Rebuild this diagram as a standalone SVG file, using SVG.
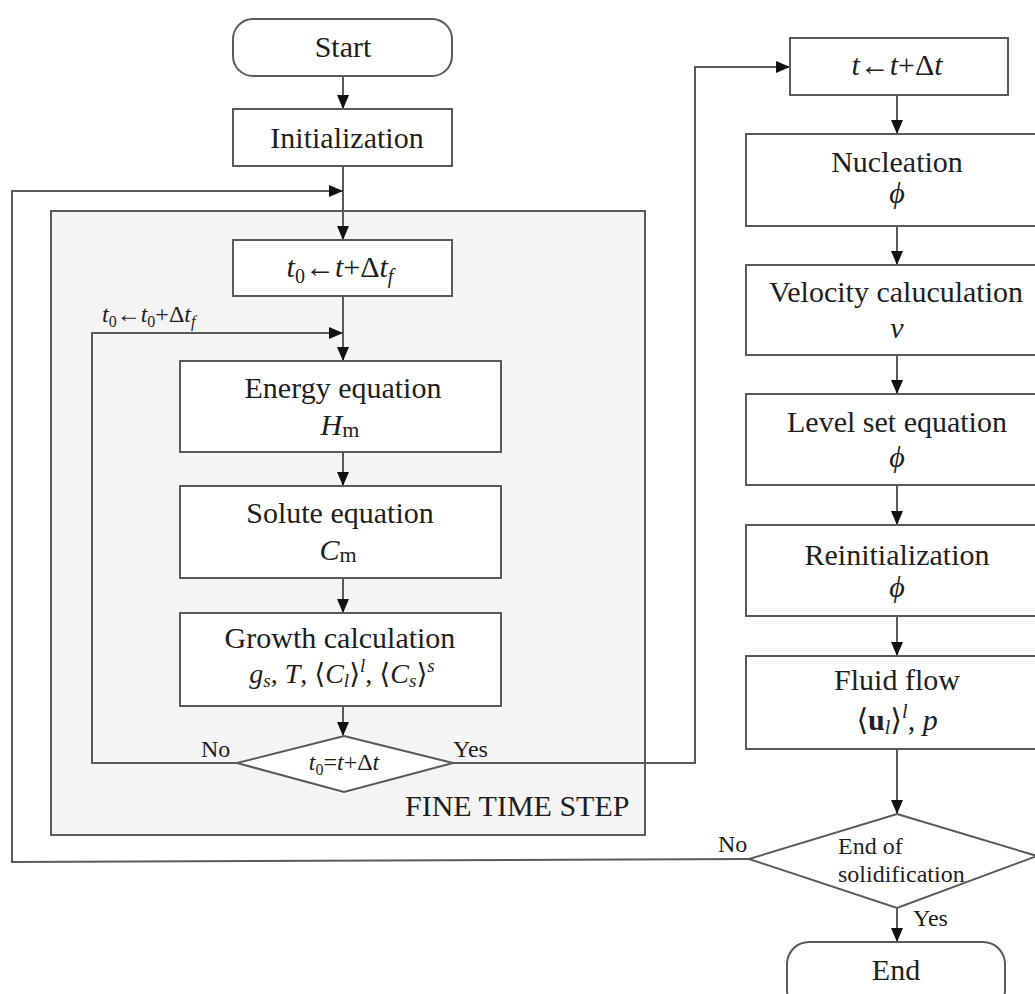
<svg xmlns="http://www.w3.org/2000/svg" width="1035" height="994" viewBox="0 0 1035 994">
<style>
  .box{fill:#fff;stroke:#5a5a5a;stroke-width:2}
  .ln{fill:none;stroke:#5a5a5a;stroke-width:2}
  text{font-family:"Liberation Serif","DejaVu Serif",serif;fill:#1e1e1e}
  .t30{font-size:30px;text-anchor:middle}
  .t28{font-size:28px;text-anchor:middle}
  .lab{font-size:24px}
  .i{font-style:italic}
</style>
<defs>
  <marker id="ah" markerWidth="14" markerHeight="12" refX="13" refY="6" orient="auto" markerUnits="userSpaceOnUse">
    <path d="M0,0 L14,6 L0,12 Z" fill="#111"/>
  </marker>
</defs>
<rect width="1035" height="994" fill="#fff"/>

<g id="fine-time-step">
  <rect x="51" y="211" width="594" height="624" fill="#f4f4f4" stroke="#5a5a5a" stroke-width="2"/>
  <text x="405" y="816" style="font-size:30px">FINE TIME STEP</text>
</g>

<g id="connectors">
  <line class="ln" x1="343" y1="76" x2="343" y2="108" marker-end="url(#ah)"/>
  <line class="ln" x1="343" y1="166" x2="343" y2="239" marker-end="url(#ah)"/>
  <polyline class="ln" points="749,859 12,862 12,191 342,191" marker-end="url(#ah)"/>
  <line class="ln" x1="343" y1="296" x2="343" y2="360" marker-end="url(#ah)"/>
  <polyline class="ln" points="237,763 92,763 92,333 342,333" marker-end="url(#ah)"/>
  <line class="ln" x1="343" y1="452" x2="343" y2="485" marker-end="url(#ah)"/>
  <line class="ln" x1="343" y1="578" x2="343" y2="612" marker-end="url(#ah)"/>
  <line class="ln" x1="343" y1="706" x2="343" y2="735" marker-end="url(#ah)"/>
  <polyline class="ln" points="453,763 695,763 695,67 789,67" marker-end="url(#ah)"/>
  <line class="ln" x1="897" y1="95" x2="897" y2="133" marker-end="url(#ah)"/>
  <line class="ln" x1="897" y1="226" x2="897" y2="264" marker-end="url(#ah)"/>
  <line class="ln" x1="897" y1="355" x2="897" y2="393" marker-end="url(#ah)"/>
  <line class="ln" x1="897" y1="485" x2="897" y2="524" marker-end="url(#ah)"/>
  <line class="ln" x1="897" y1="616" x2="897" y2="655" marker-end="url(#ah)"/>
  <line class="ln" x1="897" y1="749" x2="897" y2="813" marker-end="url(#ah)"/>
  <line class="ln" x1="897" y1="908" x2="897" y2="941" marker-end="url(#ah)"/>
  <text class="lab" x="201" y="757">No</text>
  <text class="lab" x="453" y="757">Yes</text>
  <text class="lab" x="718" y="852">No</text>
  <text class="lab" x="913" y="926">Yes</text>
  <text x="102" y="322" style="font-size:24px"><tspan class="i">t</tspan><tspan font-size="16" dy="5">0</tspan><tspan dy="-5">←</tspan><tspan class="i">t</tspan><tspan font-size="16" dy="5">0</tspan><tspan dy="-5">+Δ</tspan><tspan class="i">t</tspan><tspan class="i" font-size="16" dy="5">f</tspan></text>
</g>

<g id="start">
  <rect class="box" x="233" y="19" width="219" height="57" rx="20"/>
  <text class="t30" x="343" y="57">Start</text>
</g>
<g id="initialization">
  <rect class="box" x="233" y="109" width="219" height="57"/>
  <text class="t30" x="347" y="148">Initialization</text>
</g>
<g id="t0-box">
  <rect class="box" x="233" y="240" width="219" height="56"/>
  <text class="t30" x="340" y="277"><tspan class="i">t</tspan><tspan font-size="20" dy="6">0</tspan><tspan dy="-6">←</tspan><tspan class="i">t</tspan>+Δ<tspan class="i">t</tspan><tspan class="i" font-size="20" dy="6">f</tspan></text>
</g>
<g id="energy">
  <rect class="box" x="180" y="361" width="321" height="91"/>
  <text class="t30" x="343" y="398">Energy equation</text>
  <text class="t30" x="340" y="435"><tspan class="i">H</tspan><tspan font-size="22" dy="2">m</tspan></text>
</g>
<g id="solute">
  <rect class="box" x="180" y="486" width="321" height="92"/>
  <text class="t30" x="340" y="523">Solute equation</text>
  <text class="t30" x="338" y="560"><tspan class="i">C</tspan><tspan font-size="22" dy="2">m</tspan></text>
</g>
<g id="growth">
  <rect class="box" x="180" y="613" width="321" height="93"/>
  <text class="t30" x="340" y="648">Growth calculation</text>
  <text class="t28" x="342" y="683"><tspan class="i">g</tspan><tspan class="i" font-size="19" dy="4">s</tspan><tspan dy="-4">, </tspan><tspan class="i">T</tspan>, ⟨<tspan class="i">C</tspan><tspan class="i" font-size="19" dy="4">l</tspan><tspan dy="-4">⟩</tspan><tspan class="i" font-size="19" dy="-11">l</tspan><tspan dy="11">, ⟨</tspan><tspan class="i">C</tspan><tspan class="i" font-size="19" dy="4">s</tspan><tspan dy="-4">⟩</tspan><tspan class="i" font-size="19" dy="-11">s</tspan></text>
</g>
<g id="fine-check">
  <polygon class="box" points="344,736 453,763 344,792 237,763"/>
  <text x="344" y="770" style="font-size:24px;text-anchor:middle"><tspan class="i">t</tspan><tspan font-size="16" dy="5">0</tspan><tspan dy="-5">=</tspan><tspan class="i">t</tspan>+Δ<tspan class="i">t</tspan></text>
</g>

<g id="t-box">
  <rect class="box" x="790" y="38" width="218" height="57"/>
  <text class="t30" x="897" y="75"><tspan class="i">t</tspan>←<tspan class="i">t</tspan>+Δ<tspan class="i">t</tspan></text>
</g>
<g id="nucleation">
  <rect class="box" x="746" y="134" width="310" height="92"/>
  <text class="t30" x="897" y="172">Nucleation</text>
  <text class="t30 i" x="897" y="203">ϕ</text>
</g>
<g id="velocity">
  <rect class="box" x="746" y="265" width="310" height="90"/>
  <text class="t30" x="896" y="302">Velocity caluculation</text>
  <text class="t30 i" x="897" y="338">v</text>
</g>
<g id="levelset">
  <rect class="box" x="746" y="394" width="310" height="91"/>
  <text class="t30" x="897" y="432">Level set equation</text>
  <text class="t30 i" x="897" y="467">ϕ</text>
</g>
<g id="reinit">
  <rect class="box" x="746" y="525" width="310" height="91"/>
  <text class="t30" x="897" y="565">Reinitialization</text>
  <text class="t30 i" x="897" y="597">ϕ</text>
</g>
<g id="fluid">
  <rect class="box" x="746" y="656" width="310" height="93"/>
  <text class="t30" x="897" y="690">Fluid flow</text>
  <text class="t30" x="897" y="730">⟨<tspan font-weight="bold">u</tspan><tspan class="i" font-size="20" dy="4">l</tspan><tspan dy="-4">⟩</tspan><tspan class="i" font-size="20" dy="-12">l</tspan><tspan dy="12">, </tspan><tspan class="i">p</tspan></text>
</g>
<g id="end-check">
  <polygon class="box" points="897,814 1037,856 897,908 749,859"/>
  <text class="lab" x="838" y="854">End of</text>
  <text class="lab" x="838" y="882">solidification</text>
</g>
<g id="end">
  <rect class="box" x="787" y="942" width="218" height="70" rx="22"/>
  <text class="t30" x="896" y="980">End</text>
</g>
</svg>
